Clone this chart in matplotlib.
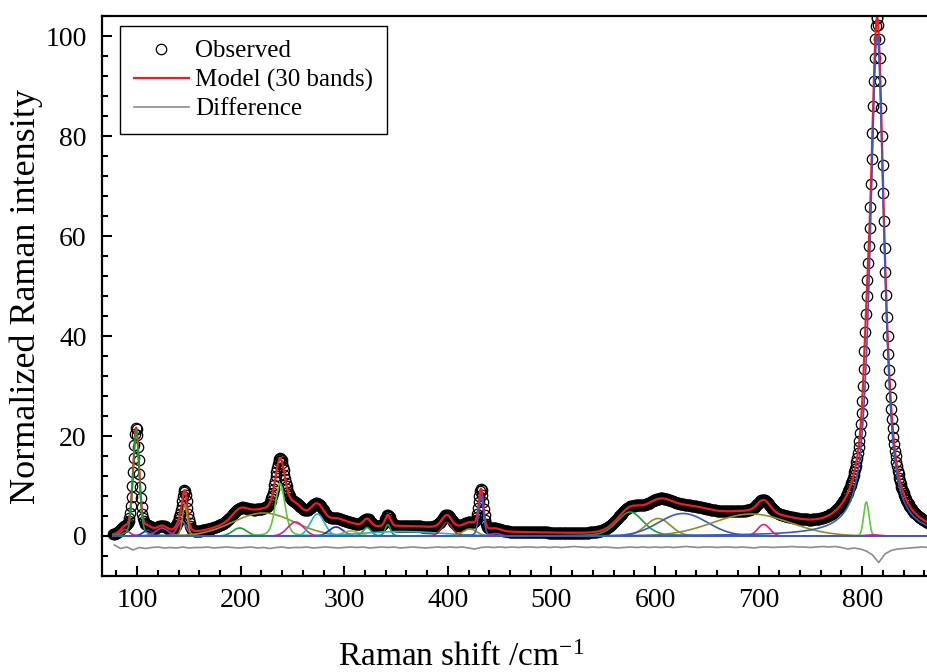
import numpy as np
import matplotlib
matplotlib.use("Agg")
import matplotlib.pyplot as plt
from matplotlib.ticker import MultipleLocator

plt.rcParams.update({'font.family': 'Liberation Serif', 'mathtext.default': 'regular'})

# fitted bands: centre /cm-1, height, fwhm, lorentzian fraction, colour
# colour None = band is in the model but not drawn on its own
band_center = [88, 99, 110, 124, 143, 146, 199, 222, 238, 253, 274, 292, 306, 322, 342,
               355, 399, 421, 432, 446, 576, 603, 627, 693, 705, 804, 810, 814.5, 360, 805]
band_height = [1.3, 21.3, 1.2, 1.6, 3.0, 6.3, 1.6, 4.6, 10.5, 2.8, 4.4, 1.8, 1.0, 1.7, 2.3,
               0.9, 2.7, 1.4, 8.0, 0.5, 4.8, 3.5, 4.5, 4.4, 2.3, 6.8, 0.25, 100.0, 1.0, 4.0]
band_fwhm = [10, 7, 10, 14, 10, 5.5, 16, 70, 11, 18, 16, 16, 18, 9, 6,
             90, 12, 16, 5.5, 12, 30, 28, 55, 88, 14, 6, 14, 16, 300, 50]
band_eta = [0.3, 0.3, 0.3, 0.3, 0.3, 0.3, 0.0, 0.0, 0.3, 0.0, 0.0, 0.0, 0.0, 0.3, 0.3,
            0.0, 0.3, 0.0, 0.3, 0.0, 0.3, 0.0, 0.0, 0.0, 0.0, 0.0, 0.0, 0.8, 0.0, 1.0]
band_color = ['#e0208a', '#1f9a3f', '#2b2b9b', '#9a3fa5', '#9a3fa5', '#8e8e2a', '#1f9a3f',
              '#8e8e2a', '#5cc83c', '#e0208a', '#2ab4d6', '#2b2b9b', '#a8b440', '#1f9a3f',
              '#1f9a3f', '#2ab4d6', '#9b2b2b', '#8e8e2a', '#3a5cb8', '#9a3fa5', '#1f9a3f',
              '#8e8e2a', '#3a5cb8', '#8e8e2a', '#e0208a', '#5cc83c', '#e0208a', '#3a5cb8',
              None, None]
zero_color = '#3a5cb8'

# residual (observed - model), drawn shifted below zero
diff_x = np.arange(78, 871, 6)
diff_y = [-1.8, -2.5, -2.2, -2.8, -2.3, -2.5, -2.3, -2.2, -2.4, -2.3, -2.4, -2.2, -2.4, -2.3,
          -2.3, -2.2, -2.4, -2.3, -2.2, -2.3, -2.4,
          -2.3, -2.2, -2.4, -2.3, -2.5, -2.3, -2.2, -2.4, -2.3, -2.3, -2.2, -2.4, -2.3, -2.2,
          -2.3, -2.4, -2.3,
          -2.2, -2.3, -2.2, -2.4, -2.3, -2.2, -2.3, -2.2, -2.4, -2.3, -2.2, -2.3, -2.4, -2.3,
          -2.2, -2.3, -2.2,
          -2.3, -2.2, -2.4, -2.6, -2.3, -2.2, -2.3, -2.2, -2.3, -2.2, -2.3, -2.2, -2.2, -2.3,
          -2.2, -2.3,
          -2.2, -2.3, -2.2, -2.1, -2.2, -2.3, -2.2, -2.3, -2.2, -2.3, -2.4, -2.3, -2.2, -2.3,
          -2.2, -2.3, -2.2,
          -2.3, -2.2, -2.3, -2.2, -2.1, -2.2, -2.3, -2.2, -2.2, -2.3, -2.2, -2.2, -2.3, -2.2,
          -2.3, -2.4, -2.2,
          -2.2, -2.3, -2.2, -2.2, -2.1, -2.2, -2.2, -2.3, -2.2, -2.1, -2.2, -2.1, -2.3, -2.6,
          -2.4, -2.6, -3.0,
          -3.8, -5.3, -3.6, -2.9, -2.6, -2.5, -2.4, -2.3, -2.2, -2.3, -2.2]


def band(x, c, h, w, eta):
    lor = 1.0 / (1.0 + (2 * (x - c) / w) ** 2)
    gau = np.exp(-4 * np.log(2) * ((x - c) / w) ** 2)
    return h * (eta * lor + (1 - eta) * gau)


x_obs = np.arange(77, 900, 0.7)
x_fit = np.linspace(77, 900, 4000)

model_fit = np.zeros_like(x_fit)
model_obs = np.zeros_like(x_obs)
for c, h, w, eta in zip(band_center, band_height, band_fwhm, band_eta):
    model_fit += band(x_fit, c, h, w, eta)
    model_obs += band(x_obs, c, h, w, eta)

fig = plt.figure(figsize=(9.28, 6.72), dpi=100)
ax = fig.add_axes([0.1099, 0.14286, 0.9302, 0.8333])

ax.plot(x_obs, model_obs, 'o', ms=7.5, mfc='none', mec='black', mew=0.9,
        label='Observed', zorder=1)
ax.plot(x_fit, model_fit, color='#ee1d23', lw=1.6, label='Model (30 bands)', zorder=2)
for c, h, w, eta, col in zip(band_center, band_height, band_fwhm, band_eta, band_color):
    if col is None:
        continue
    ax.plot(x_fit, band(x_fit, c, h, w, eta), color=col, lw=1.2, zorder=3)
ax.hlines(0, x_fit[0], x_fit[-1], color=zero_color, lw=1.3, zorder=3.5)
ax.plot(diff_x, diff_y, color='#8c8c8c', lw=1.2, label='Difference', zorder=3)

ax.set_xlim(66, 899.5)
ax.set_ylim(-8, 104)
ax.xaxis.set_major_locator(MultipleLocator(100))
ax.xaxis.set_minor_locator(MultipleLocator(20))
ax.yaxis.set_major_locator(MultipleLocator(20))
ax.yaxis.set_minor_locator(MultipleLocator(4))
ax.tick_params(which='both', direction='in', width=1.5, labelsize=20)
ax.tick_params(which='major', length=7)
ax.tick_params(axis='x', which='major', pad=9)
ax.tick_params(axis='y', which='major', pad=11)
ax.tick_params(which='minor', length=4.5)
for s in ax.spines.values():
    s.set_linewidth(1.6)

ax.set_xlabel('Raman shift /cm$^{-1}$', fontsize=24)
ax.set_ylabel('Normalized Raman intensity', fontsize=26)
ax.xaxis.set_label_coords(0.4155, -0.118)
ax.yaxis.set_label_coords(-0.068, 0.5)

leg = ax.legend(loc='upper left', bbox_to_anchor=(0.0208, 0.982), fontsize=18,
                frameon=True, fancybox=False, framealpha=1, edgecolor='black',
                handlelength=2.2, labelspacing=0.25, borderpad=0.55, handletextpad=0.25,
                borderaxespad=0)
leg.get_frame().set_linewidth(1.0)

fig.savefig('out.png', dpi=100)
